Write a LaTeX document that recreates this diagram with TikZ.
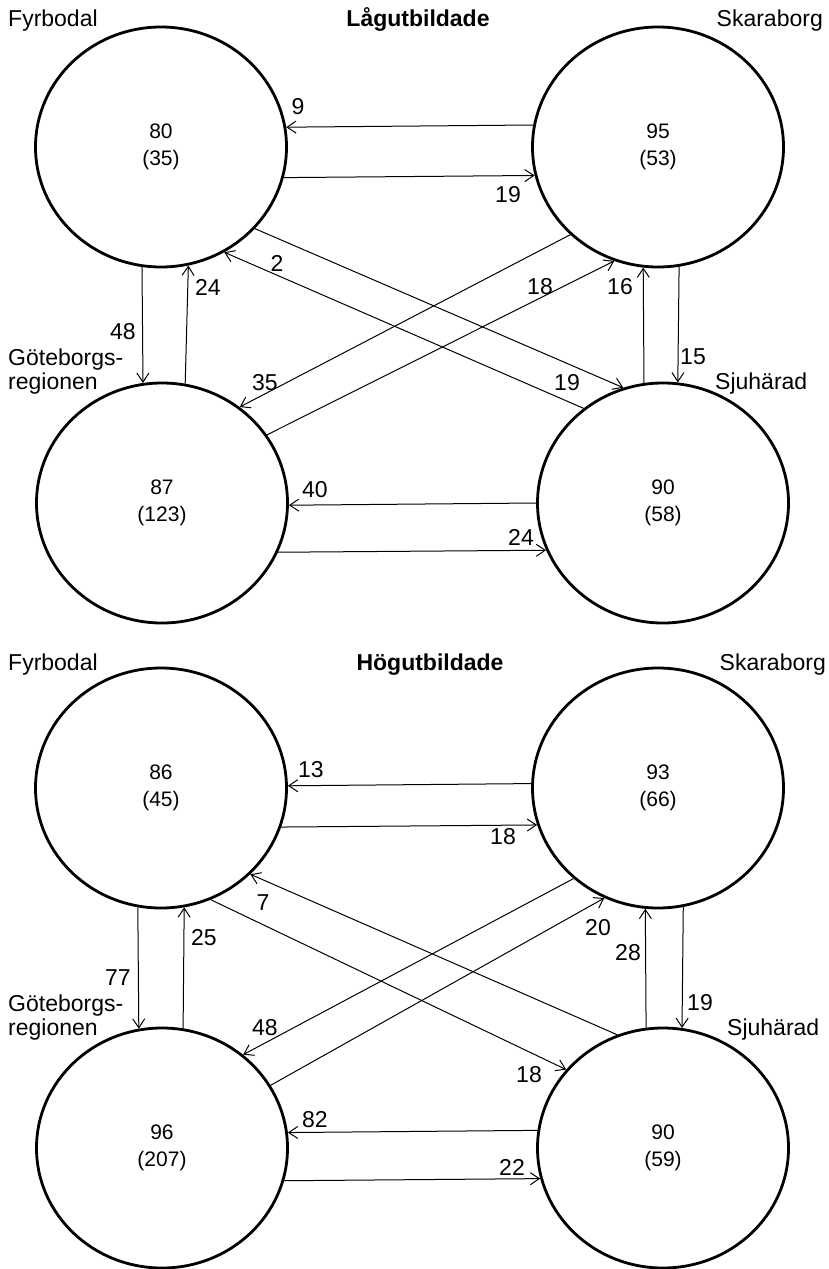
\documentclass[tikz,border=0pt]{standalone}
\usepackage{fontspec}
\setmainfont{Liberation Sans}
\usetikzlibrary{arrows.meta,shapes.geometric}
\begin{document}
\begin{tikzpicture}[x=1pt,y=-1pt,
  region/.style={draw, ellipse, line width=2.8pt, minimum width=251pt, minimum height=240pt,
    inner sep=0pt, align=center, font=\fontsize{21}{27}\selectfont},
  flow/.style={line width=1pt, -{Straight Barb[length=9pt,width=12pt,line width=1pt]}},
  lbl/.style={font=\fontsize{23}{24}\selectfont, inner sep=0pt},
  place/.style={font=\fontsize{23}{24}\selectfont, inner sep=0pt, align=left},
  heading/.style={font=\fontsize{23}{24}\selectfont\bfseries, inner sep=0pt}]
\useasboundingbox[fill=white] (0,0) rectangle (828,1269);

% ---------------- top panel ----------------
\node[place, anchor=base west] (tF1) at (8,26) {Fyrbodal};
\node[heading, anchor=base] (tT1) at (418,26) {Lågutbildade};
\node[place, anchor=base east] (tS1) at (823,26) {Skaraborg};
\node[place, anchor=base west] (tG1) at (8,389) {Göteborgs-\\regionen};
\node[place, anchor=base west] (tJ1) at (715,389) {Sjuhärad};

\node[region] (F1) at (161,147) {80\\(35)};
\node[region] (S1) at (658,147) {95\\(53)};
\node[region] (G1) at (162,503) {87\\(123)};
\node[region] (J1) at (663,503) {90\\(58)};

\draw[flow] (S1.170.8) -- (F1.9.2);
\draw[flow] (F1.346.1) -- (S1.193.9);
\draw[flow] (J1.180.9) -- (G1.359.1);
\draw[flow] (G1.337.3) -- (J1.202.7);
\draw[flow] (F1.261.4) -- (G1.99.1);
\draw[flow] (G1.79.4) -- (F1.283.5);
\draw[flow] (J1.99.6) -- (S1.263.8);
\draw[flow] (S1.280.1) -- (J1.83.8);
\draw[flow] (F1.319.8) -- (J1.109.3);
\draw[flow] (J1.130) -- (F1.301.9);
\draw[flow] (S1.225.6) -- (G1.51.8);
\draw[flow] (G1.33.4) -- (S1.249.5);

\node[lbl] (l1a) at (298,107) {9};
\node[lbl] (l1b) at (508,195) {19};
\node[lbl] (l1c) at (277,263) {2};
\node[lbl] (l1d) at (208,287) {24};
\node[lbl] (l1e) at (123,332) {48};
\node[lbl] (l1f) at (540,287) {18};
\node[lbl] (l1g) at (620,287) {16};
\node[lbl] (l1h) at (693,357) {15};
\node[lbl] (l1i) at (265,383) {35};
\node[lbl] (l1j) at (567,383) {19};
\node[lbl] (l1k) at (315,490) {40};
\node[lbl] (l1l) at (521,537) {24};

% ---------------- bottom panel ----------------
\node[place, anchor=base west] (tF2) at (8,670) {Fyrbodal};
\node[heading, anchor=base] (tT2) at (430,670) {Högutbildade};
\node[place, anchor=base east] (tS2) at (826,670) {Skaraborg};
\node[place, anchor=base west] (tG2) at (8,1035) {Göteborgs-\\regionen};
\node[place, anchor=base west] (tJ2) at (727,1035) {Sjuhärad};

\node[region] (F2) at (161,788) {86\\(45)};
\node[region] (S2) at (658,788) {93\\(66)};
\node[region] (G2) at (162,1148) {96\\(207)};
\node[region] (J2) at (663,1148) {90\\(59)};

\draw[flow] (S2.178.2) -- (F2.1.8);
\draw[flow] (F2.342.8) -- (S2.197.2);
\draw[flow] (J2.172.7) -- (G2.7.3);
\draw[flow] (G2.345.7) -- (J2.194.3);
\draw[flow] (F2.259.9) -- (G2.101.5);
\draw[flow] (G2.80.9) -- (F2.281);
\draw[flow] (J2.98.6) -- (S2.264.7);
\draw[flow] (S2.282) -- (J2.81.9);
\draw[flow] (J2.112.2) -- (F2.316.3);
\draw[flow] (F2.294.5) -- (J2.141.4);
\draw[flow] (S2.227.9) -- (G2.49);
\draw[flow] (G2.30.6) -- (S2.244.9);

\node[lbl] (l2a) at (311,770) {13};
\node[lbl] (l2b) at (503,837) {18};
\node[lbl] (l2c) at (263,903) {7};
\node[lbl] (l2d) at (204,938) {25};
\node[lbl] (l2e) at (598,928) {20};
\node[lbl] (l2f) at (628,953) {28};
\node[lbl] (l2g) at (118,978) {77};
\node[lbl] (l2h) at (700,1003) {19};
\node[lbl] (l2i) at (265,1028) {48};
\node[lbl] (l2j) at (529,1075) {18};
\node[lbl] (l2k) at (315,1120) {82};
\node[lbl] (l2l) at (512,1167) {22};
\end{tikzpicture}
\end{document}
